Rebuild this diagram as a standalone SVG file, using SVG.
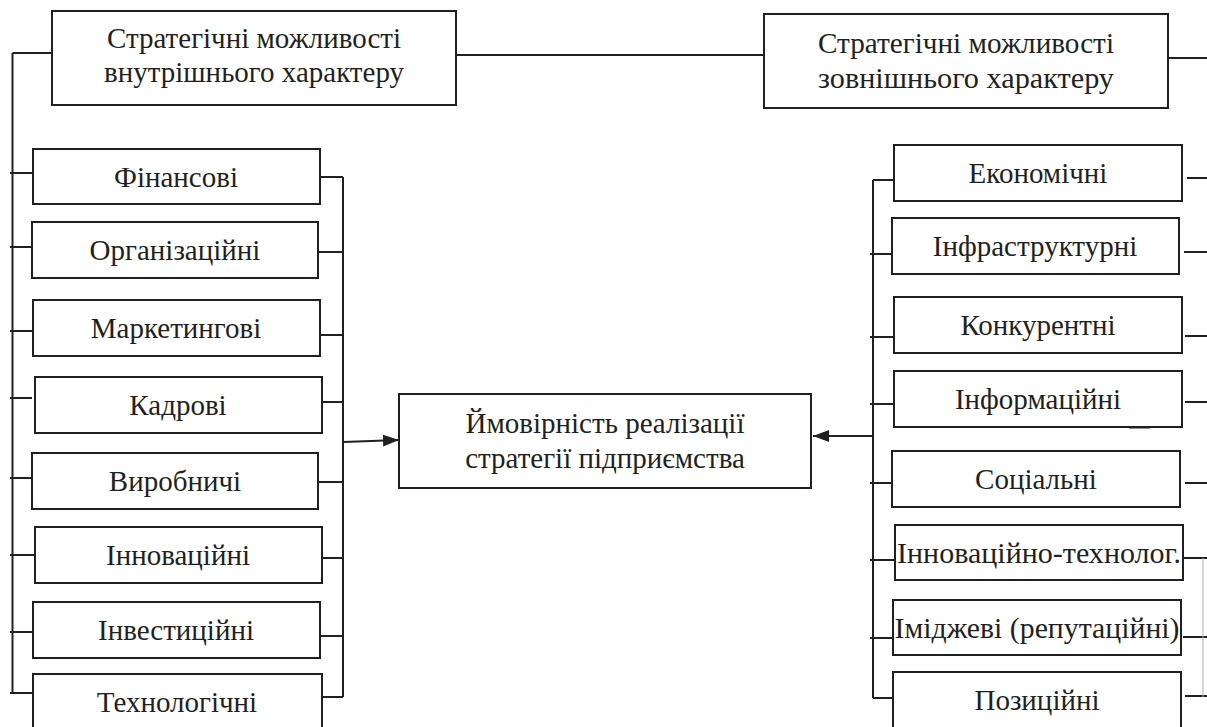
<svg xmlns="http://www.w3.org/2000/svg" width="1207" height="727" viewBox="0 0 1207 727">
<defs>
<style>
.box{fill:#fff;stroke:#231f20;stroke-width:2}
.t{font-family:'Liberation Serif','DejaVu Serif','Times New Roman',serif;font-size:29px;fill:#231f20;text-anchor:middle}
.c{fill:none;stroke:#231f20;stroke-width:2}
.f{fill:none;stroke:#b0b0b0;stroke-width:1}
</style>
<marker id="ah" viewBox="0 0 16 12" refX="16" refY="6" markerWidth="16" markerHeight="12" markerUnits="userSpaceOnUse" orient="auto">
<path d="M0,0 L16,6 L0,12 Z" fill="#231f20"/>
</marker>
</defs>
<rect width="1207" height="727" fill="#fff"/>
<g id="connectors">
<path class="c" d="M12.5,53 V693"/>
<path class="c" d="M12.5,53 H52"/>
<path class="c" d="M10,173 H33 M10,247 H32 M10,331 H33 M10,398 H32 M10,478 H32 M10,555 H35 M10,632 H33 M10,693 H33"/>
<path class="c" d="M320,177 H343 M318,252 H343 M320,335 H343 M322,402 H343 M318,482 H343 M322,558 H343 M320,636 H343 M322,697 H343"/>
<path class="c" d="M343,177 V697"/>
<path class="c" d="M343,442 L399,440" marker-end="url(#ah)"/>
<path class="c" d="M456,55 H764"/>
<path class="c" d="M1168,58 H1207"/>
<path class="c" d="M873,180 V698"/>
<path class="c" d="M873,180 H894 M870,254 H892 M870,337 H894 M870,404 H894 M870,483 H892 M870,560 H895 M870,638 H893 M873,698 H893"/>
<path class="c" d="M873,436 H813" marker-end="url(#ah)"/>
<path class="c" d="M1187,178 H1207 M1184,252 H1207 M1185,336 H1207 M1185,402 H1207 M1185,483 H1207 M1183,558 H1207 M1183,637 H1207 M1185,696 H1207"/>
<path class="f" d="M1203,558 V697"/>
<path d="M1129,427 H1150" stroke="#231f20" stroke-width="3"/>
</g>
<g id="internal">
<rect class="box" x="52" y="11" width="404" height="94"/>
<text class="t" x="254" y="48">Стратегічні можливості</text>
<text class="t" x="254" y="82">внутрішнього характеру</text>
</g>
<g id="external">
<rect class="box" x="764" y="14" width="404" height="94"/>
<text class="t" x="966" y="53" font-size="31" textLength="296" lengthAdjust="spacingAndGlyphs">Стратегічні можливості</text>
<text class="t" x="966" y="88" font-size="31" textLength="296" lengthAdjust="spacingAndGlyphs">зовнішнього характеру</text>
</g>
<g id="center">
<rect class="box" x="399" y="394" width="412" height="94"/>
<text class="t" x="605" y="433">Ймовірність реалізації</text>
<text class="t" x="605" y="468">стратегії підприємства</text>
</g>
<g id="n-fin"><rect class="box" x="33" y="149" width="287" height="55"/><text class="t" x="176" y="187">Фінансові</text></g>
<g id="n-org"><rect class="box" x="32" y="222" width="286" height="56"/><text class="t" x="175" y="260">Організаційні</text></g>
<g id="n-mkt"><rect class="box" x="33" y="300" width="287" height="56"/><text class="t" x="176" y="338">Маркетингові</text></g>
<g id="n-kad"><rect class="box" x="35" y="377" width="287" height="56"/><text class="t" x="178" y="415">Кадрові</text></g>
<g id="n-vyr"><rect class="box" x="32" y="453" width="286" height="56"/><text class="t" x="175" y="491">Виробничі</text></g>
<g id="n-inn"><rect class="box" x="35" y="527" width="287" height="56"/><text class="t" x="178" y="565">Інноваційні</text></g>
<g id="n-inv"><rect class="box" x="33" y="602" width="287" height="56"/><text class="t" x="176" y="640">Інвестиційні</text></g>
<g id="n-teh"><rect class="box" x="33" y="674" width="289" height="60"/><text class="t" x="177" y="712">Технологічні</text></g>
<g id="n-eko"><rect class="box" x="894" y="145" width="288" height="56"/><text class="t" x="1038" y="183">Економічні</text></g>
<g id="n-infr"><rect class="box" x="892" y="218" width="287" height="56"/><text class="t" x="1035" y="256">Інфраструктурні</text></g>
<g id="n-konk"><rect class="box" x="894" y="297" width="288" height="56"/><text class="t" x="1038" y="335">Конкурентні</text></g>
<g id="n-infm"><rect class="box" x="894" y="371" width="288" height="56"/><text class="t" x="1038" y="409">Інформаційні</text></g>
<g id="n-soc"><rect class="box" x="892" y="451" width="288" height="56"/><text class="t" x="1036" y="489">Соціальні</text></g>
<g id="n-innt"><rect class="box" x="895" y="525" width="288" height="55"/><text class="t" x="1039" y="563" textLength="284" lengthAdjust="spacingAndGlyphs">Інноваційно-технолог.</text></g>
<g id="n-imi"><rect class="box" x="893" y="600" width="288" height="55"/><text class="t" x="1037" y="638" textLength="285" lengthAdjust="spacingAndGlyphs">Іміджеві (репутаційні)</text></g>
<g id="n-poz"><rect class="box" x="893" y="672" width="288" height="60"/><text class="t" x="1037" y="710">Позиційні</text></g>
</svg>
